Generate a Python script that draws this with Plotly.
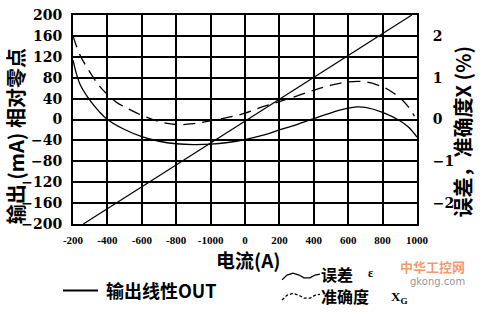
import plotly.graph_objects as go

# ---------------- data ----------------
X_TICK_VALS = [-1000, -800, -600, -400, -200, 0, 200, 400, 600, 800, 1000]
X_TICK_LABELS = ["-200", "-400", "-600", "-800", "-1000", "0", "200", "400", "600", "800", "1000"]
Y_TICK_VALS = [-200, -160, -120, -80, -40, 0, 40, 80, 120, 160, 200]
Y2_TICK_VALS = [-2, -1, 0, 1, 2]

# linear output (left axis, mA)
out_x = [-940, 970]
out_y = [-200, 200]

# error epsilon (right axis, %)
err_x = [-1000, -960, -900, -850, -800, -700, -600, -500, -400, -300, -200, -100, 0,
         100, 200, 300, 400, 500, 600, 650, 700, 800, 900, 950, 1000]
err_y = [1.42, 0.85, 0.45, 0.2, 0.0, -0.24, -0.41, -0.52, -0.58, -0.6, -0.59, -0.55, -0.48,
         -0.38, -0.25, -0.12, 0.02, 0.16, 0.27, 0.3, 0.29, 0.17, -0.03, -0.18, -0.42]

# accuracy X_G (right axis, %)
acc_x = [-1000, -960, -900, -850, -800, -750, -700, -600, -500, -400, -300, -200, -100, 0,
         100, 200, 300, 400, 500, 600, 700, 800, 850, 900, 950, 985]
acc_y = [2.0, 1.55, 1.12, 0.82, 0.6, 0.42, 0.3, 0.1, -0.05, -0.12, -0.1, -0.03, 0.05, 0.15,
         0.3, 0.43, 0.56, 0.7, 0.82, 0.9, 0.9, 0.78, 0.67, 0.52, 0.3, 0.08]

# ---------------- layout helpers ----------------
W, H = 480, 314
L, R, T, B = 73, 63, 7, 90
PW, PH = W - L - R, H - T - B


def px(x):
    return (x - L) / PW


def py(y):
    return (H - B - y) / PH


CJK = "Noto Sans CJK SC"
SERIF = "Liberation Serif"

fig = go.Figure()
fig.add_trace(go.Scatter(x=out_x, y=out_y, mode="lines",
                         line=dict(color="black", width=1.2), yaxis="y", showlegend=False))
fig.add_trace(go.Scatter(x=err_x, y=err_y, mode="lines", line_shape="spline",
                         line=dict(color="black", width=1.3), yaxis="y2", showlegend=False))
fig.add_trace(go.Scatter(x=acc_x, y=acc_y, mode="lines", line_shape="spline",
                         line=dict(color="black", width=1.3, dash="12px,7px"),
                         yaxis="y2", showlegend=False))

fig.update_layout(
    width=W, height=H,
    margin=dict(l=L, r=R, t=T, b=B, pad=0),
    paper_bgcolor="white", plot_bgcolor="white",
    showlegend=False,
    xaxis=dict(range=[-1000, 1000], tickvals=X_TICK_VALS, ticktext=X_TICK_LABELS,
               showgrid=True, gridcolor="black", gridwidth=2,
               zeroline=True, zerolinecolor="black", zerolinewidth=2,
               showline=True, linecolor="black", linewidth=2, mirror=True,
               ticks="outside", ticklen=5, tickcolor="rgba(0,0,0,0)",
               tickfont=dict(family=SERIF, size=11, color="black", weight="bold")),
    yaxis=dict(range=[-200, 200], tickvals=Y_TICK_VALS,
               showgrid=True, gridcolor="black", gridwidth=2,
               zeroline=True, zerolinecolor="black", zerolinewidth=2,
               showline=True, linecolor="black", linewidth=2, mirror=True,
               ticks="outside", ticklen=6, tickcolor="rgba(0,0,0,0)",
               tickfont=dict(family="DejaVu Serif", size=14, color="black", weight="bold")),
    yaxis2=dict(range=[-2.5, 2.5], tickvals=Y2_TICK_VALS, overlaying="y", side="right",
                showgrid=False, zeroline=False, showline=False,
                ticks="outside", ticklen=12, tickcolor="rgba(0,0,0,0)",
                tickfont=dict(family="DejaVu Serif", size=14, color="black", weight="bold")),
)

ann = []
# axis titles
ann.append(dict(text="电流(A)", x=px(248), y=py(261), xref="paper", yref="paper",
                showarrow=False, xanchor="center", yanchor="middle",
                font=dict(family=CJK, size=19, color="black", weight="bold")))
ann.append(dict(text="输出 (mA) 相对零点", x=px(15), y=py(133), xref="paper", yref="paper",
                showarrow=False, xanchor="center", yanchor="middle", textangle=-90,
                font=dict(family=CJK, size=20, color="black", weight="bold")))
ann.append(dict(text="误差，准确度X (%)", x=px(463), y=py(129), xref="paper", yref="paper",
                showarrow=False, xanchor="center", yanchor="middle", textangle=-90,
                font=dict(family=CJK, size=20, color="black", weight="bold")))
# legend texts
ann.append(dict(text="输出线性OUT", x=px(104), y=py(293), xref="paper", yref="paper",
                showarrow=False, xanchor="left", yanchor="middle",
                font=dict(family=CJK, size=18, color="black", weight="bold")))
ann.append(dict(text="误差", x=px(319), y=py(276), xref="paper", yref="paper",
                showarrow=False, xanchor="left", yanchor="middle",
                font=dict(family=CJK, size=16, color="black", weight="bold")))
ann.append(dict(text="ε", x=px(366), y=py(275), xref="paper", yref="paper",
                showarrow=False, xanchor="left", yanchor="middle",
                font=dict(family=SERIF, size=12, color="black", weight="bold")))
ann.append(dict(text="准确度", x=px(319), y=py(299), xref="paper", yref="paper",
                showarrow=False, xanchor="left", yanchor="middle",
                font=dict(family=CJK, size=16, color="black", weight="bold")))
ann.append(dict(text="X<sub>G</sub>", x=px(389), y=py(300), xref="paper", yref="paper",
                showarrow=False, xanchor="left", yanchor="middle",
                font=dict(family=SERIF, size=13, color="black", weight="bold")))
# watermark
ann.append(dict(text="中华工控网", x=px(432), y=py(268), xref="paper", yref="paper",
                showarrow=False, xanchor="center", yanchor="middle",
                font=dict(family=CJK, size=13, color="rgba(240,120,60,0.75)", weight="bold")))
ann.append(dict(text="gkong.com", x=px(437), y=py(284), xref="paper", yref="paper",
                showarrow=False, xanchor="center", yanchor="middle",
                font=dict(family="DejaVu Sans", size=10, color="rgba(120,120,120,0.8)")))
fig.update_layout(annotations=ann)

shapes = []
# legend line for OUT
shapes.append(dict(type="line", xref="paper", yref="paper",
                   x0=px(63), x1=px(98), y0=py(293), y1=py(293),
                   line=dict(color="black", width=2)))


def wave(y0):
    pts = [(282, y0 + 4), (287, y0 - 1), (293, y0 - 3), (299, y0 - 1), (304, y0 + 2),
           (310, y0 + 2), (315, y0 - 1), (320, y0 - 2)]
    d = "M {} {}".format(px(pts[0][0]), py(pts[0][1]))
    for a, b in pts[1:]:
        d += " L {} {}".format(px(a), py(b))
    return d


shapes.append(dict(type="path", xref="paper", yref="paper", path=wave(278),
                   line=dict(color="black", width=1.3)))
shapes.append(dict(type="path", xref="paper", yref="paper", path=wave(299),
                   line=dict(color="black", width=1.3, dash="3px,2px")))
fig.update_layout(shapes=shapes)

fig.write_html("out.html")
